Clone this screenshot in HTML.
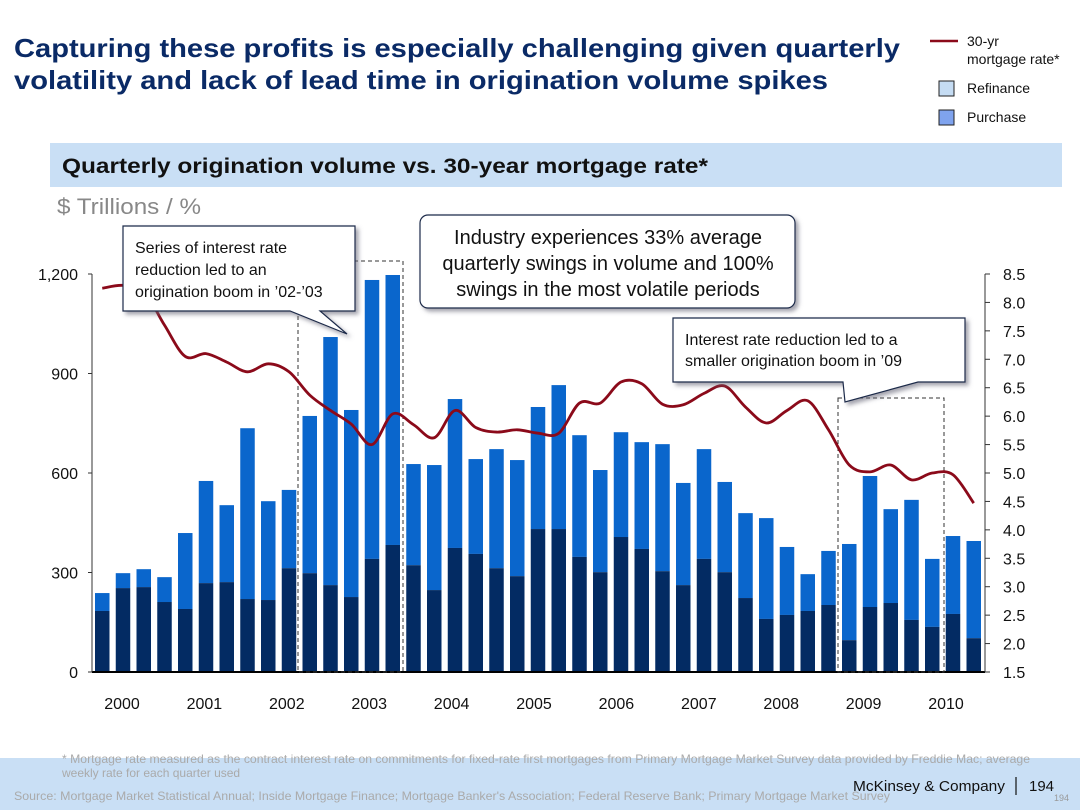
<!DOCTYPE html>
<html><head><meta charset="utf-8"><style>
html,body{margin:0;padding:0;background:#fff;}
body{width:1080px;height:810px;overflow:hidden;position:relative;font-family:"Liberation Sans",sans-serif;}
svg{position:absolute;left:0;top:0;}
</style></head><body>
<svg width="1080" height="810" xmlns="http://www.w3.org/2000/svg" id="chart">
<defs><filter id="sh" x="-10%" y="-10%" width="130%" height="140%"><feDropShadow dx="3" dy="3" stdDeviation="2" flood-color="#667" flood-opacity="0.6"/></filter></defs>
<rect x="0" y="758" width="1080" height="52" fill="#c9dff5"/>
<text x="14" y="57" font-size="26" font-weight="bold" fill="#0a2a66" textLength="886" lengthAdjust="spacingAndGlyphs">Capturing these profits is especially challenging given quarterly</text>
<text x="14" y="89" font-size="26" font-weight="bold" fill="#0a2a66" textLength="814" lengthAdjust="spacingAndGlyphs">volatility and lack of lead time in origination volume spikes</text>
<g>
<line x1="930" y1="41" x2="958" y2="41" stroke="#8b0a1a" stroke-width="2.5"/>
<text x="967" y="46" font-size="14" fill="#111">30-yr</text>
<text x="967" y="64" font-size="14" fill="#111">mortgage rate*</text>
<rect x="939" y="81" width="15" height="15" fill="#c5dcf3" stroke="#222"/>
<text x="967" y="93" font-size="14" fill="#111">Refinance</text>
<rect x="939" y="110" width="15" height="15" fill="#7fa3ee" stroke="#222"/>
<text x="967" y="122" font-size="14" fill="#111">Purchase</text>
</g>
<rect x="50" y="143" width="1012" height="44" fill="#c9dff5"/>
<text x="62" y="173" font-size="21" font-weight="bold" fill="#111" textLength="646" lengthAdjust="spacingAndGlyphs">Quarterly origination volume vs. 30-year mortgage rate*</text>
<text x="57" y="214" font-size="22" fill="#888" textLength="144" lengthAdjust="spacingAndGlyphs">$ Trillions / %</text>
<g id="plot"></g>
<g filter="url(#sh)">
<path d="M123,226 H355 V311 H320 L347,334 L290,311 H123 Z" fill="#fff" stroke="#1b2a4a" stroke-width="1.2"/>
</g>
<text font-size="16" fill="#111"><tspan x="135" y="253">Series of interest rate</tspan><tspan x="135" y="275">reduction led to an</tspan><tspan x="135" y="297">origination boom in ’02-’03</tspan></text>
<g filter="url(#sh)"><rect x="420" y="215" width="375" height="93" rx="8" fill="#fff" stroke="#1b2a4a" stroke-width="1.2"/></g>
<text font-size="20" fill="#111" text-anchor="middle"><tspan x="608" y="244">Industry experiences 33% average</tspan><tspan x="608" y="270">quarterly swings in volume and 100%</tspan><tspan x="608" y="296">swings in the most volatile periods</tspan></text>
<g filter="url(#sh)"><path d="M673,318 H965 V382 H918 L845,402 L843,382 H673 Z" fill="#fff" stroke="#1b2a4a" stroke-width="1.2"/></g>
<text font-size="16" fill="#111"><tspan x="685" y="345">Interest rate reduction led to a</tspan><tspan x="685" y="366">smaller origination boom in ’09</tspan></text>
<text x="62" y="763" font-size="12" fill="#aaa" textLength="968" lengthAdjust="spacingAndGlyphs">*  Mortgage rate measured as the contract interest rate on commitments for fixed-rate first mortgages from Primary Mortgage Market Survey data provided by Freddie Mac; average</text>
<text x="62" y="777" font-size="12" fill="#aaa">weekly rate for each quarter used</text>
<text x="14" y="800" font-size="12" fill="#aaa" textLength="876" lengthAdjust="spacingAndGlyphs">Source:  Mortgage Market Statistical Annual; Inside Mortgage Finance; Mortgage Banker's Association; Federal Reserve Bank; Primary Mortgage Market Survey</text>
<text x="853" y="791" font-size="15" fill="#111" textLength="152" lengthAdjust="spacingAndGlyphs">McKinsey &amp; Company</text>
<line x1="1016" y1="777" x2="1016" y2="795" stroke="#111" stroke-width="1.2"/>
<text x="1029" y="791" font-size="15" fill="#111">194</text>
<text x="1054" y="801" font-size="9" fill="#999">194</text>
</svg>
<script>
const purchase=[184,253,256,211,190,268,271,220,217,313,298,262,226,341,383,322,247,374,356,313,289,431,431,347,301,407,371,304,262,341,301,223,160,172,184,202,96,196,208,157,136,175,102];
const totals=[238,298,310,286,419,576,503,735,515,549,772,1010,790,1182,1197,627,624,823,642,672,639,799,865,714,609,723,693,687,570,672,573,479,464,377,295,365,386,591,491,519,341,410,395];
const rates=[8.25,8.3,8.2,7.6,7.05,7.1,6.95,6.78,6.92,6.78,6.37,6.1,5.86,5.5,6.04,5.85,5.62,6.1,5.8,5.72,5.76,5.7,5.7,6.23,6.23,6.6,6.57,6.21,6.2,6.4,6.53,6.16,5.88,6.1,6.27,5.76,5.14,5.02,5.14,4.88,5.0,4.97,4.47];
const leftTicks=[0,300,600,900,1200];
const rightTicks=[1.5,2.0,2.5,3.0,3.5,4.0,4.5,5.0,5.5,6.0,6.5,7.0,7.5,8.0,8.5];
const years=["2000","2001","2002","2003","2004","2005","2006","2007","2008","2009","2010"];
const NS="http://www.w3.org/2000/svg";
const g=document.getElementById('plot');
const y0=672,yTop=274;
const yL=v=>y0-v/1200*(y0-yTop);
const yR=r=>y0-(r-1.5)/7*(y0-yTop);
const step=20.75,bw=14.5,x0=95;
const xB=i=>x0+i*step;
const xYear=k=>122+k*82.4;
function mk(t,a){const e=document.createElementNS(NS,t);for(const k in a)e.setAttribute(k,a[k]);g.appendChild(e);return e;}
totals.forEach((t,i)=>{
 const r=mk('rect',{x:xB(i),y:yL(t),width:bw,height:yL(purchase[i])-yL(t),fill:'#0a66cc'});
 
 
 const p=mk('rect',{x:xB(i),y:yL(purchase[i]),width:bw,height:y0-yL(purchase[i]),fill:'#032b63'});
 
 
});
let a=mk('line',{x1:92,y1:y0,x2:985,y2:y0,stroke:'#000','stroke-width':2});


a=mk('line',{x1:92,y1:yTop,x2:92,y2:y0,stroke:'#333','stroke-width':1});


a=mk('line',{x1:985,y1:yTop,x2:985,y2:y0,stroke:'#333','stroke-width':1});


leftTicks.forEach(v=>{
 mk('line',{x1:88,y1:yL(v),x2:92,y2:yL(v),stroke:'#333'});
 const t=mk('text',{x:78,y:yL(v)+6,'font-size':16,'text-anchor':'end',fill:'#111'});
 t.textContent=v.toLocaleString('en-US');
 
 
});
rightTicks.forEach(v=>{
 mk('line',{x1:985,y1:yR(v),x2:990,y2:yR(v),stroke:'#333'});
 const t=mk('text',{x:1003,y:yR(v)+6,'font-size':16,fill:'#111'});
 t.textContent=v.toFixed(1);
 
 
});
years.forEach((yr,k)=>{
 const t=mk('text',{x:xYear(k),y:709,'font-size':16,'text-anchor':'middle',fill:'#111'});
 t.textContent=yr;
 
 
});
let d=mk('rect',{x:298,y:261,width:105,height:411,fill:'none',stroke:'#333','stroke-dasharray':'4,3'});


d=mk('rect',{x:838,y:398,width:106,height:274,fill:'none',stroke:'#333','stroke-dasharray':'4,3'});


const pts=rates.map((r,i)=>[xB(i)+bw/2,yR(r)]);
let s='M'+pts[0][0]+','+pts[0][1];
for(let i=0;i<pts.length-1;i++){
 const p0=pts[i-1]||pts[i],p1=pts[i],p2=pts[i+1],p3=pts[i+2]||p2;
 s+=' C'+(p1[0]+(p2[0]-p0[0])/6)+','+(p1[1]+(p2[1]-p0[1])/6)+' '+(p2[0]-(p3[0]-p1[0])/6)+','+(p2[1]-(p3[1]-p1[1])/6)+' '+p2[0]+','+p2[1];
}
const l=mk('path',{d:s,fill:'none',stroke:'#8b0a1a','stroke-width':2.8});


</script>
</body></html>
